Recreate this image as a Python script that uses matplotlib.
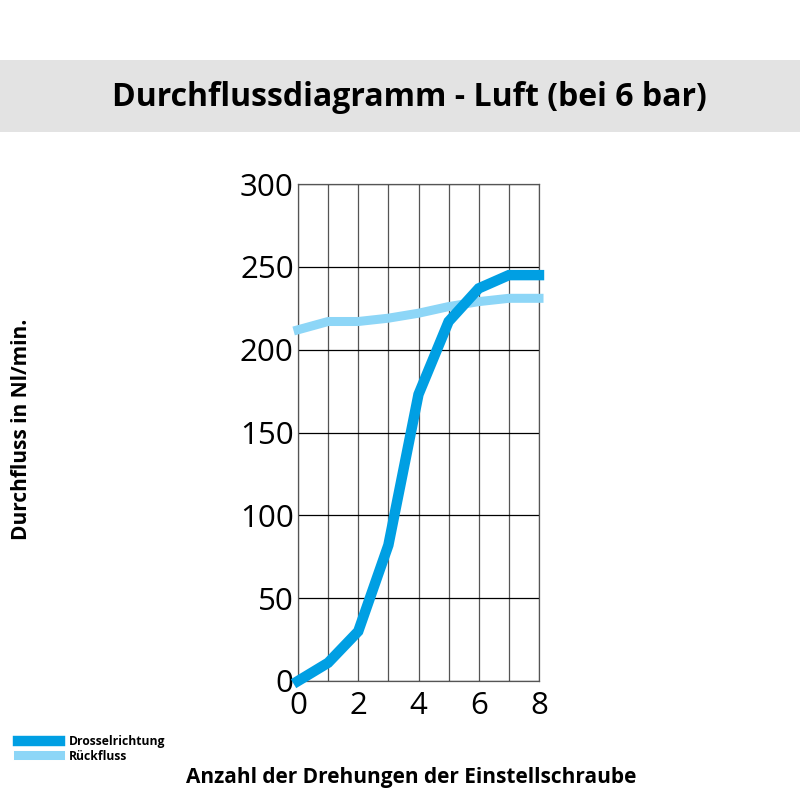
import matplotlib.pyplot as plt
from matplotlib.patches import Rectangle

# Umdrehungen der Einstellschraube
turns = [0, 1, 2, 3, 4, 5, 6, 7, 8]
# Durchfluss in Nl/min
drossel = [0, 11, 30, 82, 173, 217, 237, 245, 245]
rueckfluss = [212, 217, 217, 219, 222, 226, 229, 231, 231]

x_ticks = [0, 2, 4, 6, 8]
y_ticks = [0, 50, 100, 150, 200, 250, 300]

dark_blue = "#009fe3"
light_blue = "#8dd6f7"

plt.rcParams['font.family'] = ['Open Sans', 'DejaVu Sans']

fig = plt.figure(figsize=(8, 8), dpi=100)

# grey title band
fig.patches.append(Rectangle((0, 1 - 132 / 800), 1, 72 / 800,
                             transform=fig.transFigure, facecolor="#e3e3e3",
                             edgecolor="none", zorder=0))
fig.text(0.512, 1 - 98 / 800, "Durchflussdiagramm - Luft (bei 6 bar)",
         ha="center", va="center", fontsize=23, fontweight="bold")

ax = fig.add_axes([298 / 800, 1 - 681 / 800, 241 / 800, 497 / 800])

ax.plot(turns, rueckfluss, color=light_blue, lw=6.5, label="Rückfluss",
        solid_joinstyle="miter", clip_on=False, zorder=3)
ax.plot(turns, drossel, color=dark_blue, lw=7.5, label="Drosselrichtung",
        solid_joinstyle="miter", clip_on=False, zorder=4)

ax.set_xlim(0, 8)
ax.set_ylim(0, 300)
ax.set_xticks(x_ticks)
ax.set_yticks(y_ticks)
ax.set_xticks(range(0, 9), minor=True)
ax.tick_params(which="both", length=0, labelsize=22.5)
ax.tick_params(axis="y", pad=3)
ax.tick_params(axis="x", pad=7)

ax.grid(axis="y", color="black", lw=0.9)
ax.grid(axis="x", which="both", color="#555555", lw=0.9)
ax.set_axisbelow(True)
for s in ax.spines.values():
    s.set_color("#555555")
    s.set_linewidth(0.9)

fig.text(22 / 800, 1 - 429 / 800, "Durchfluss in Nl/min.", rotation=90,
         ha="center", va="center", fontsize=15, fontweight="bold")
fig.text(411 / 800, 1 - 778 / 800, "Anzahl der Drehungen der Einstellschraube",
         ha="center", va="center", fontsize=15, fontweight="bold")

handles, labels = ax.get_legend_handles_labels()
fig.legend(handles[::-1], labels[::-1], loc="upper left",
           bbox_to_anchor=(0.012, 1 - 727 / 800), frameon=False,
           prop={"size": 8.7, "weight": "bold"}, handlelength=3.5,
           handletextpad=0.7, labelspacing=0.1, borderpad=0.2)

fig.savefig("out.png", dpi=100)
